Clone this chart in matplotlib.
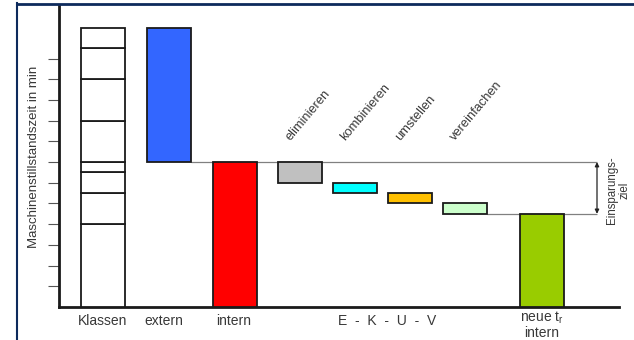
import numpy as np
import matplotlib.pyplot as plt
from matplotlib.lines import Line2D

plt.rcParams['font.family'] = ['Liberation Sans', 'DejaVu Sans']

# Klassen: stacked class segments (min)
klassen_segments = [4, 1.5, 1, 0.5, 2, 2, 1.5, 1]

# set-up times (min)
t_extern = 6.5
t_intern = 7.0

# EKUV reductions (min)
ekuv_labels = ['eliminieren', 'kombinieren', 'umstellen', 'vereinfachen']
ekuv_savings = [1.0, 0.5, 0.5, 0.5]
ekuv_colors = ['#C0C0C0', '#00FFFF', '#FFC000', '#CCFFCC']

t_neu = t_intern - sum(ekuv_savings)

# bar centres along the x axis
x_klassen = 43.7
x_extern = 109.7
x_intern = 175.5
x_ekuv = [241.3, 296.3, 351.3, 406.0]
x_neu = 483.0
w = 44
x_arrow = 538

edge = dict(edgecolor='#1a1a1a', linewidth=1.3)
txt = '#383838'

fig = plt.figure(figsize=(6.34, 3.40), dpi=100)
ax = fig.add_axes([59 / 634, 33 / 340, 560 / 634, 301 / 340])
ax.set_xlim(0, 560)
ax.set_ylim(0, 14.54)

# Klassen column
bottom = 0
for h in klassen_segments:
    ax.bar(x_klassen, h, w, bottom=bottom, color='white', zorder=3, **edge)
    bottom += h

# extern / intern
ax.bar(x_extern, t_extern, w, bottom=t_intern, color='#3366FF', zorder=3, **edge)
ax.bar(x_intern, t_intern, w, color='#FF0000', zorder=3, **edge)

# waterfall of savings
level = t_intern
for xc, s, c, lab in zip(x_ekuv, ekuv_savings, ekuv_colors, ekuv_labels):
    ax.bar(xc, s, w, bottom=level - s, color=c, zorder=3, **edge)
    ax.text(xc - 10, 8.0, lab, rotation=50, rotation_mode='anchor',
            ha='left', va='baseline', fontsize=9.3, color=txt)
    level -= s

ax.bar(x_neu, t_neu, w, color='#99CC00', zorder=3, **edge)

# guide lines for the savings target
ax.hlines(t_intern, x_extern + w / 2, x_arrow, color='#808080', linewidth=0.9, zorder=1)
ax.hlines(t_neu, x_ekuv[-1] + w / 2, x_arrow, color='#808080', linewidth=0.9, zorder=1)
ax.annotate('', xy=(x_arrow, t_neu), xytext=(x_arrow, t_intern),
            arrowprops=dict(arrowstyle='<|-|>', color='#222222', lw=0.9,
                            mutation_scale=6, shrinkA=0, shrinkB=0))
ax.text(x_arrow + 21, 5.65, 'Einsparungs-\nziel', rotation=90,
        ha='center', va='center', multialignment='center', fontsize=8.3,
        color=txt, linespacing=1.05)

# axes styling
for side in ['top', 'right']:
    ax.spines[side].set_visible(False)
ax.spines['left'].set_linewidth(2)
ax.spines['bottom'].set_linewidth(2)
ax.spines['left'].set_color('#1a1a1a')
ax.spines['bottom'].set_color('#1a1a1a')
ax.set_yticks(np.arange(1, 13))
ax.set_yticklabels([])
ax.tick_params(axis='y', length=8, width=0.8, color='#555555')
ax.set_xticks([])
ax.set_ylabel('Maschinenstillstandszeit in min', fontsize=9.5, color=txt)
ax.yaxis.set_label_coords(-0.034, 0.5)

# category labels under the axis
lab_y = -0.7
ax.text(x_klassen - 0.5, lab_y, 'Klassen', ha='center', va='center', fontsize=10, color=txt)
ax.text(x_extern - 5, lab_y, 'extern', ha='center', va='center', fontsize=10, color=txt)
ax.text(x_intern - 1, lab_y, 'intern', ha='center', va='center', fontsize=10, color=txt)
ax.text(328.5, lab_y, 'E  -  K  -  U  -  V', ha='center', va='center', fontsize=10, color=txt)
ax.text(x_neu, -0.12, 'neue t$_\\mathregular{r}$\nintern', ha='center', va='top',
        multialignment='center', fontsize=10, color=txt, linespacing=1.0)

# navy frame on top and left
fig.add_artist(Line2D([17 / 634, 1], [1 - 3.5 / 340, 1 - 3.5 / 340], color='#0d2a5c', linewidth=2))
fig.add_artist(Line2D([17 / 634, 17 / 634], [0, 1 - 3 / 340], color='#0d2a5c', linewidth=1.5))

fig.savefig('out.png', dpi=100)
